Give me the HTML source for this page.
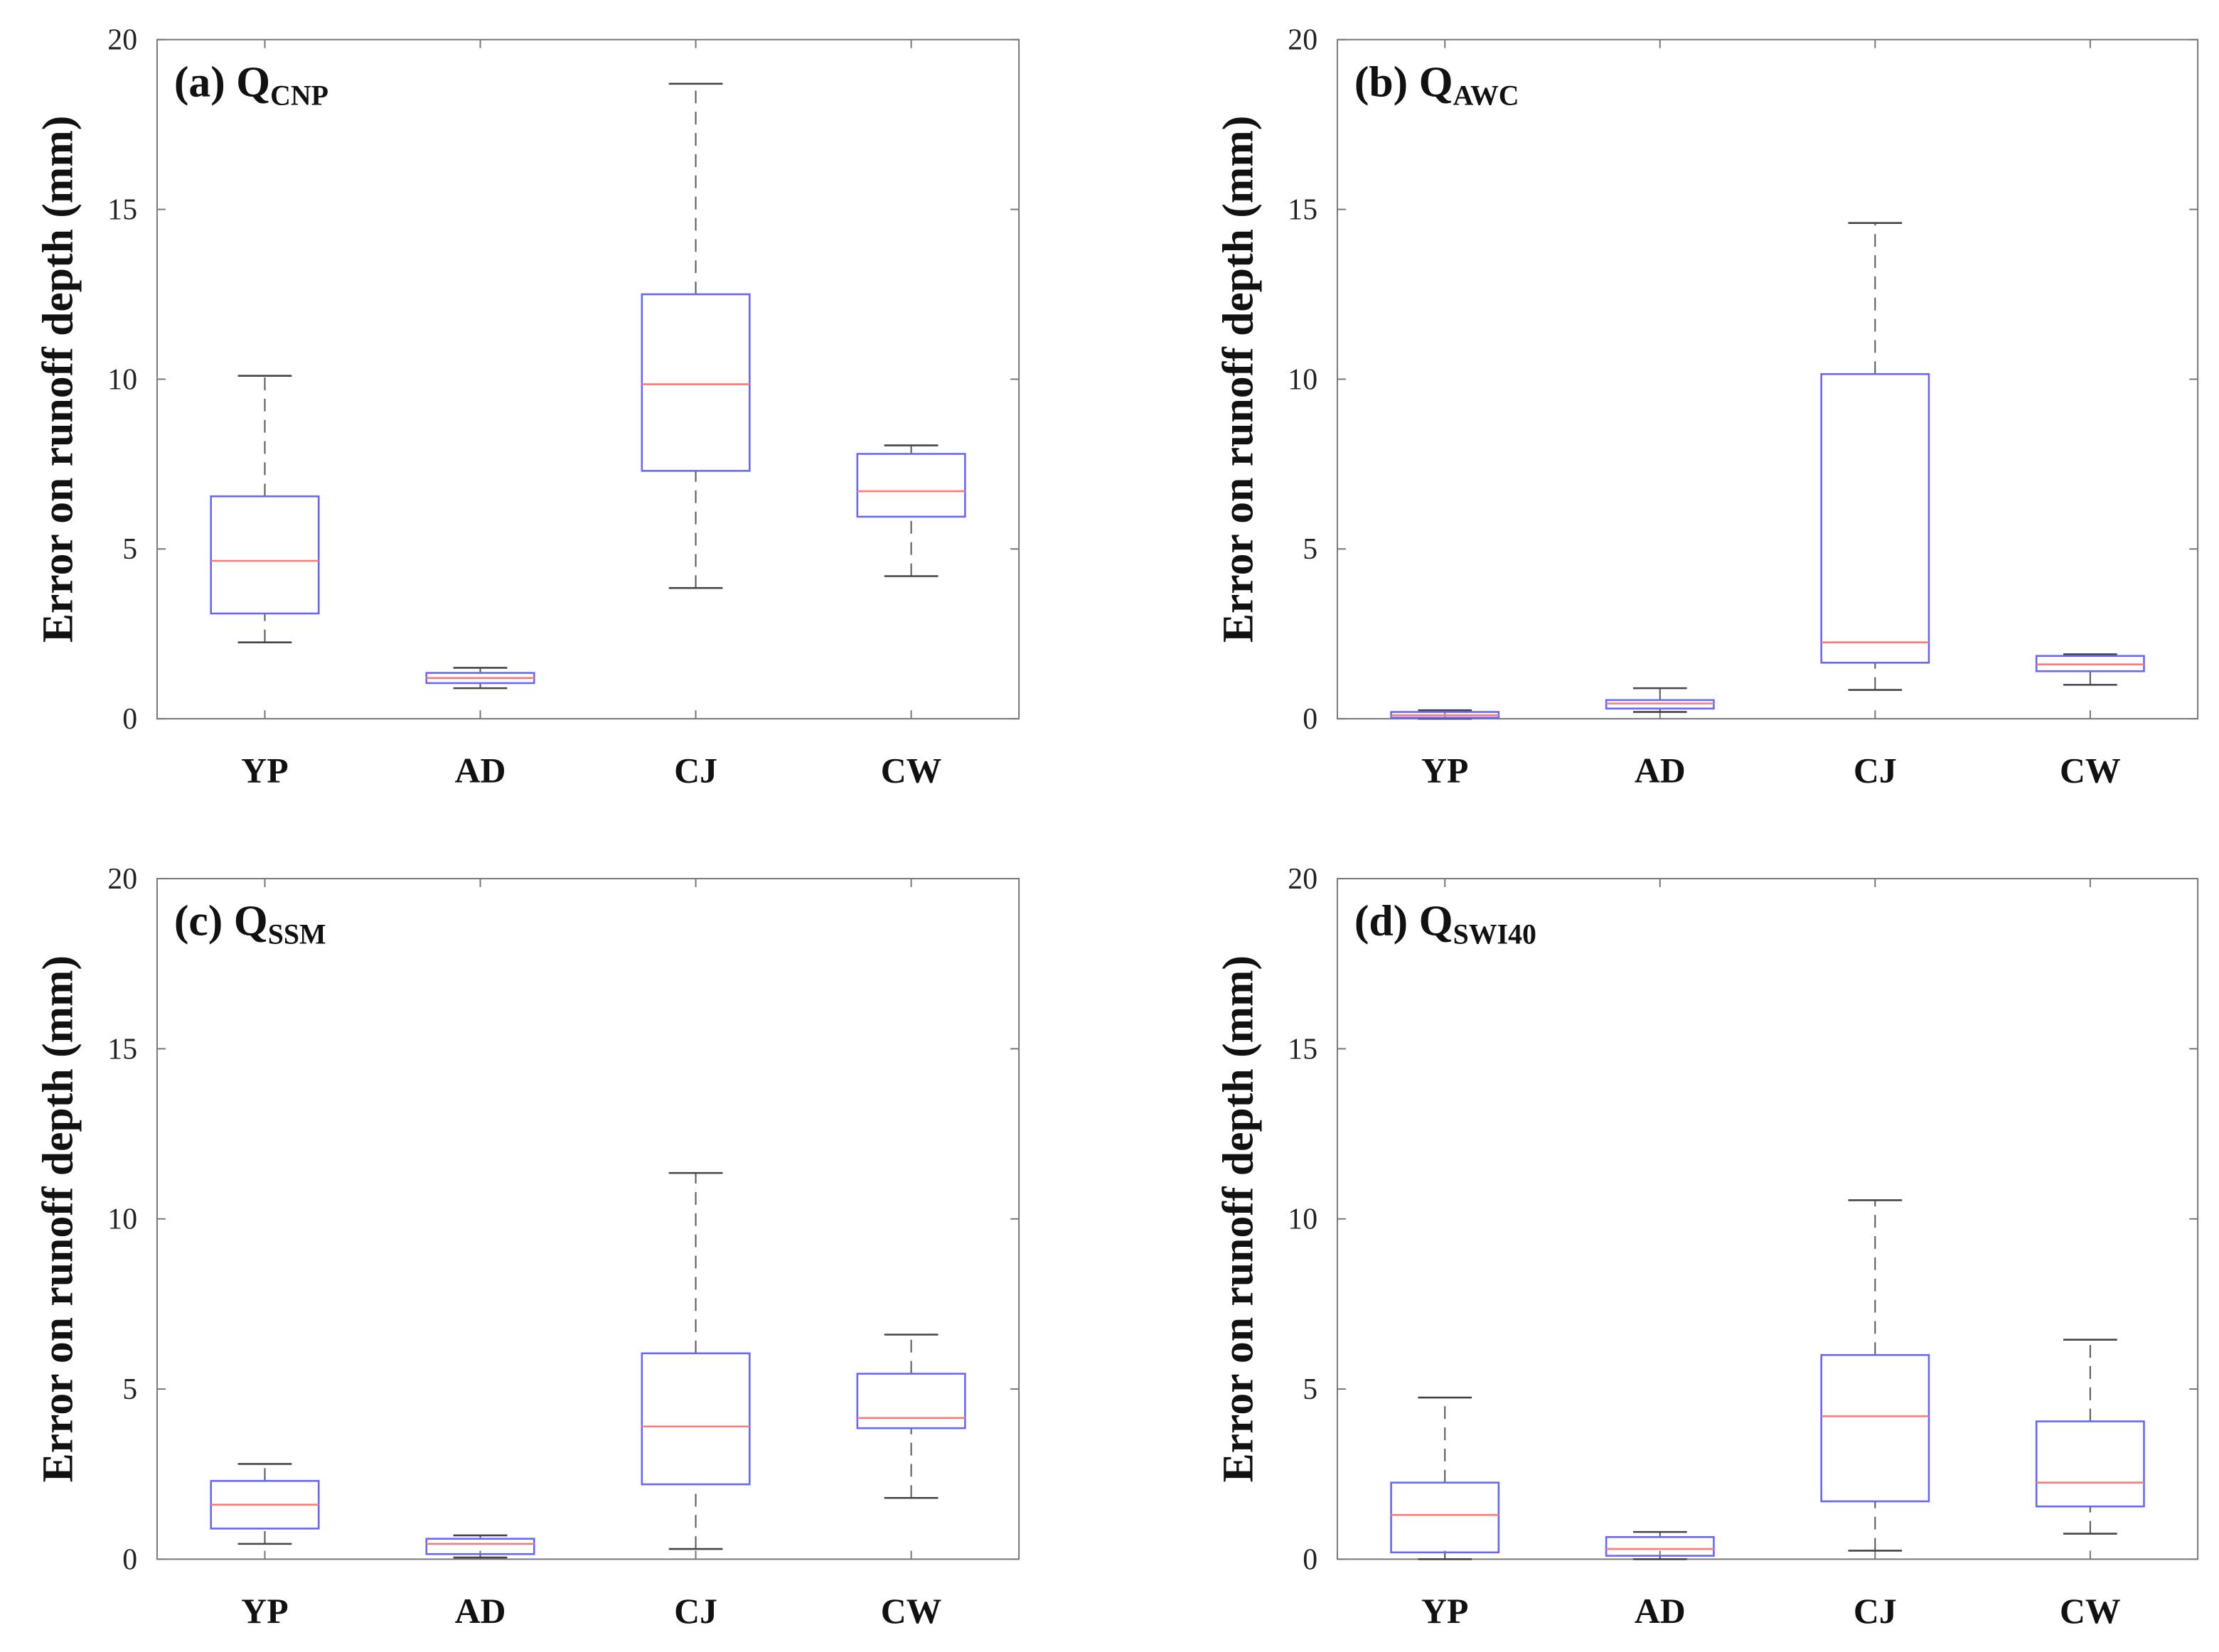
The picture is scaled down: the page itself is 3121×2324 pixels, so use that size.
<!DOCTYPE html>
<html><head><meta charset="utf-8"><style>
html,body{margin:0;padding:0;background:#fff;}
svg{display:block;}
</style></head><body>
<svg id="fig" width="3121" height="2324" viewBox="0 0 1568 1167.6" xmlns="http://www.w3.org/2000/svg" font-family="'Liberation Serif', serif"></svg>
<script>
const categories = ["YP","AD","CJ","CW"];
const yTicks = [0,5,10,15,20];
const panelLetters = ["(a)","(b)","(c)","(d)"];
const panelSubs = ["CNP","AWC","SSM","SWI40"];
// each: [whiskerLow, q1, median, q3, whiskerHigh] per category
const statsA = [[2.25,3.1,4.65,6.55,10.1],[0.9,1.05,1.2,1.35,1.5],[3.85,7.3,9.85,12.5,18.7],[4.2,5.95,6.7,7.8,8.05]];
const statsB = [[0,0.03,0.1,0.2,0.25],[0.2,0.3,0.45,0.55,0.9],[0.85,1.65,2.25,10.15,14.6],[1.0,1.4,1.6,1.85,1.9]];
const statsC = [[0.45,0.9,1.6,2.3,2.8],[0.05,0.15,0.45,0.6,0.7],[0.3,2.2,3.9,6.05,11.35],[1.8,3.85,4.15,5.45,6.6]];
const statsD = [[0,0.2,1.3,2.25,4.75],[0,0.1,0.3,0.65,0.8],[0.25,1.7,4.2,6.0,10.55],[0.75,1.55,2.25,4.05,6.45]];
const allStats = [statsA,statsB,statsC,statsD];

const svg = document.getElementById('fig');
const NS = 'http://www.w3.org/2000/svg';
function mk(tag, attrs, parent){const e=document.createElementNS(NS,tag);for(const k in attrs)e.setAttribute(k,attrs[k]);if(parent)parent.appendChild(e);return e;}

const layouts = [{l:111,r:720,t:28,b:508},{l:945,r:1553,t:28,b:508},{l:111,r:720,t:621,b:1102},{l:945,r:1553,t:621,b:1102}];

allStats.forEach((stats,pi)=>{
  const L = layouts[pi];
  const g = mk('g',{},svg);
  
  
  const yMax = yTicks[yTicks.length-1];
  const y = v => L.b - (v/yMax)*(L.b-L.t);
  const step = (L.r-L.l)/4;
  const x = i => L.l + step*(i+0.5);
  const hw = step*0.25;
  const frame = mk('rect',{x:L.l,y:L.t,width:L.r-L.l,height:L.b-L.t,fill:'none',stroke:'#777','stroke-width':1},g);
  
  
  yTicks.forEach(t=>{
    const yy=y(t);
    mk('line',{x1:L.l,x2:L.l+6,y1:yy,y2:yy,stroke:'#777'},g);
    mk('line',{x1:L.r,x2:L.r-6,y1:yy,y2:yy,stroke:'#777'},g);
    const tx=mk('text',{x:L.l-14,y:yy+7,'text-anchor':'end','font-size':21,fill:'#222'},g);
    tx.textContent=t;
    
    
  });
  categories.forEach((c,i)=>{
    const xx=x(i);
    mk('line',{x1:xx,x2:xx,y1:L.b,y2:L.b-6,stroke:'#777'},g);
    mk('line',{x1:xx,x2:xx,y1:L.t,y2:L.t+6,stroke:'#777'},g);
    const tx=mk('text',{x:xx,y:L.b+45,'text-anchor':'middle','font-size':25,'font-weight':'bold',fill:'#111'},g);
    tx.textContent=c;
    
    
    const s=stats[i];
    const bg=mk('g',{},g);
    
    
    mk('line',{x1:xx,x2:xx,y1:y(s[3]),y2:y(s[4]),stroke:'#555','stroke-dasharray':'9,6'},bg);
    mk('line',{x1:xx,x2:xx,y1:y(s[0]),y2:y(s[1]),stroke:'#555','stroke-dasharray':'9,6'},bg);
    mk('line',{x1:xx-hw/2,x2:xx+hw/2,y1:y(s[4]),y2:y(s[4]),stroke:'#444','stroke-width':1.3},bg);
    mk('line',{x1:xx-hw/2,x2:xx+hw/2,y1:y(s[0]),y2:y(s[0]),stroke:'#444','stroke-width':1.3},bg);
    mk('rect',{x:xx-hw,y:y(s[3]),width:2*hw,height:Math.max(0.5,y(s[1])-y(s[3])),fill:'none',stroke:'#6666ff','stroke-width':1.3},bg);
    mk('line',{x1:xx-hw,x2:xx+hw,y1:y(s[2]),y2:y(s[2]),stroke:'#ff7777','stroke-width':1.3},bg);
  });
  const cy=(L.t+L.b)/2;
  const yt=mk('text',{x:0,y:0,transform:`translate(${L.l-60},${cy}) rotate(-90)`,'text-anchor':'middle','font-size':31,'font-weight':'bold',fill:'#111'},g);
  yt.textContent='Error on runoff depth (mm)';
  
  
  const pt=mk('text',{x:L.l+12,y:L.t+40,'font-size':31,'font-weight':'bold',fill:'#111'},g);
  
  
  const t1=mk('tspan',{},pt); t1.textContent=panelLetters[pi]+' Q';
  const t2=mk('tspan',{'font-size':20,dy:6},pt); t2.textContent=panelSubs[pi];
});
</script>
</body></html>
